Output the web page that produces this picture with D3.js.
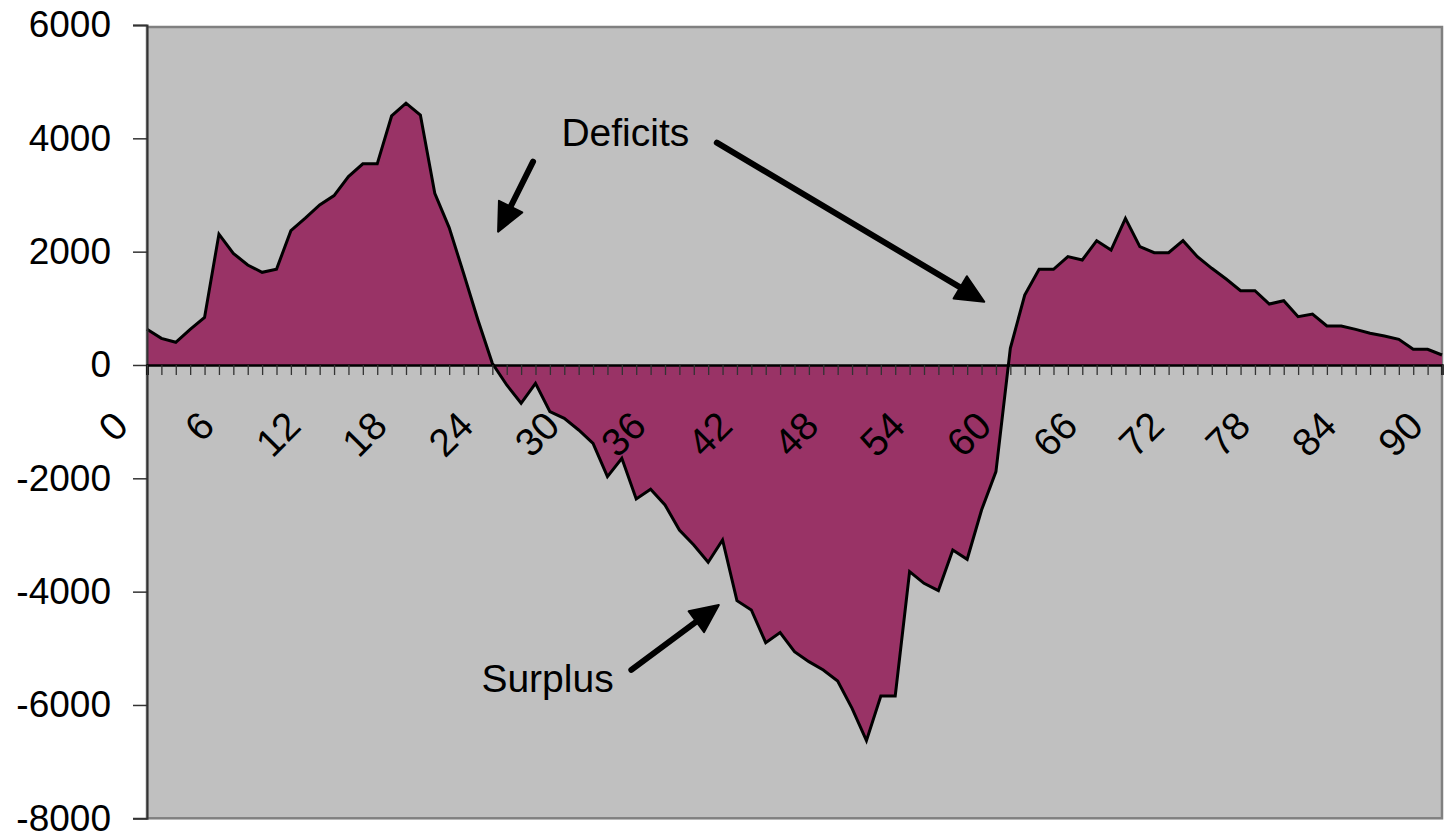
<!DOCTYPE html>
<html><head><meta charset="utf-8">
<script src="https://cdn.jsdelivr.net/npm/d3@7"></script>
<style>html,body{margin:0;padding:0;background:#fff;}svg{display:block;}</style>
</head><body>
<svg id="chart" width="1445" height="832"></svg>
<script>
const categories = d3.range(0, 91);
const balance = [630, 470, 400, 630, 840, 2310, 1970, 1765, 1635, 1690,
  2370, 2590, 2825, 2990, 3325, 3550, 3550, 4395, 4620, 4410,
  3030, 2425, 1620, 795, 30, -353, -676, -323, -824, -941,
  -1147, -1382, -1971, -1647, -2365, -2194, -2470, -2912, -3176, -3482,
  -3088, -4159, -4324, -4900, -4723, -5059, -5235, -5382, -5576, -6059,
  -6629, -5841, -5841, -3647, -3853, -3982, -3265, -3429, -2559, -1882,
  294, 1235, 1688, 1688, 1912, 1853, 2194, 2029, 2588, 2088,
  1982, 1982, 2194, 1912, 1706, 1518, 1312, 1312, 1076, 1135,
  853, 900, 688, 688, 629, 559, 512, 453, 276, 276, 176];
const xTickLabels = [0, 6, 12, 18, 24, 30, 36, 42, 48, 54, 60, 66, 72, 78, 84, 90];
const yTicks = [-8000, -6000, -4000, -2000, 0, 2000, 4000, 6000];
const labels = [{text: "Deficits", i: 28.8, v: 3865}, {text: "Surplus", i: 23.24, v: -5765}];
const arrows = [
  {from: [26.83, 3588], to: [24.4, 2352]},
  {from: [39.6, 3923], to: [58.19, 1117]},
  {from: [33.66, -5382], to: [39.74, -4235]}
];

(function () {
const svg = d3.select("#chart");
const pL = 147, pR = 1442, pT = 27, pB = 818.3;
const x = d3.scaleLinear().domain([0, 90]).range([pL, pR]);
const y = d3.scaleLinear().domain([-8000, 6000]).range([pB, 25]);
const font = "'Liberation Sans', Arial, sans-serif";

svg.append("rect").attr("x", pL).attr("y", pT).attr("width", pR - pL).attr("height", pB - pT)
  .attr("fill", "#C0C0C0").attr("stroke", "#808080").attr("stroke-width", 2.5);

const data = categories.map((c, i) => ({c, v: balance[i]}));
svg.append("path").datum(data)
  .attr("d", d3.area().x(d => x(d.c)).y0(y(0)).y1(d => y(d.v)))
  .attr("fill", "#993366");
svg.append("path").datum(data)
  .attr("d", d3.line().x(d => x(d.c)).y(d => y(d.v)))
  .attr("fill", "none").attr("stroke", "#000").attr("stroke-width", 3).attr("stroke-linejoin", "miter");

// Y axis
const yAxis = svg.append("g").attr("transform", `translate(${pL},0)`)
  .call(d3.axisLeft(y).tickValues(yTicks).tickSize(14).tickPadding(22).tickFormat(d => String(d)));
yAxis.select(".domain").attr("stroke", "#333").attr("stroke-width", 2);
yAxis.selectAll(".tick line").attr("stroke", "#333").attr("stroke-width", 1.5);
yAxis.selectAll("text").attr("font-family", font).attr("font-size", 37).attr("fill", "#000");

// X axis
const xAxis = svg.append("g").attr("transform", `translate(0,${y(0)})`)
  .call(d3.axisBottom(x).tickValues(categories).tickSize(10).tickFormat(""));
xAxis.select(".domain").attr("stroke", "#000").attr("stroke-width", 2.5);
xAxis.selectAll(".tick line").attr("stroke", "#333").attr("stroke-width", 1.3);

svg.append("g").selectAll("text").data(xTickLabels).join("text")
  .attr("transform", d => `translate(${x(d) - 24},${y(0) + 56}) rotate(-45)`)
  .attr("text-anchor", "end").attr("dominant-baseline", "middle")
  .attr("font-family", font).attr("font-size", 39).attr("fill", "#000")
  .text(d => d);

// annotations
svg.append("g").selectAll("text").data(labels).join("text")
  .attr("x", d => x(d.i)).attr("y", d => y(d.v))
  .attr("font-family", font).attr("font-size", 39).attr("fill", "#000")
  .text(d => d.text);

const ag = svg.append("g");
arrows.forEach(a => {
  const x1 = x(a.from[0]), y1 = y(a.from[1]), x2 = x(a.to[0]), y2 = y(a.to[1]);
  const ang = Math.atan2(y2 - y1, x2 - x1);
  const L = 28, W = 13;
  const bx = x2 - L * Math.cos(ang), by = y2 - L * Math.sin(ang);
  ag.append("line").attr("x1", x1).attr("y1", y1).attr("x2", bx).attr("y2", by)
    .attr("stroke", "#000").attr("stroke-width", 6).attr("stroke-linecap", "round");
  const px = -Math.sin(ang), py = Math.cos(ang);
  ag.append("polygon")
    .attr("points", [[x2, y2], [bx + W * px, by + W * py], [bx - W * px, by - W * py]].map(p => p.join(",")).join(" "))
    .attr("fill", "#000").attr("stroke", "#000").attr("stroke-width", 2).attr("stroke-linejoin", "round");
});
})();
</script>
</body></html>
